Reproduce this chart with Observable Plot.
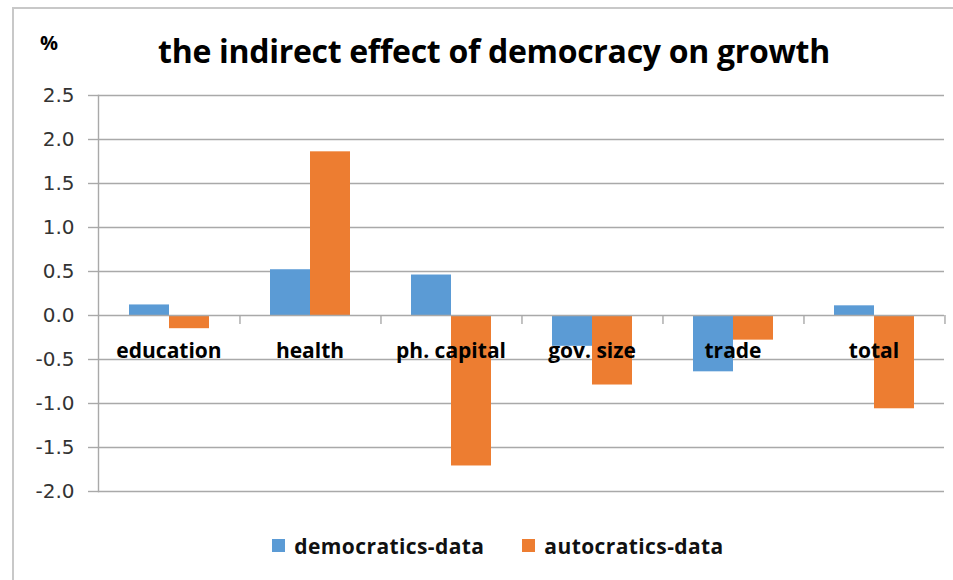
<!DOCTYPE html>
<html>
<head>
<meta charset="utf-8">
<script src="https://cdn.jsdelivr.net/npm/d3@7"></script>
<script src="https://cdn.jsdelivr.net/npm/@observablehq/plot@0.6"></script>
<style>
  html, body { margin: 0; padding: 0; background: #fff; }
  #chart {
    position: relative; width: 953px; height: 580px; overflow: hidden;
    font-family: "Open Sans", Lato, sans-serif; color: #000;
  }
  #chart .edge-top { position: absolute; left: 13px; top: 7px; right: 0; height: 0; border-top: 2px solid #c8c8c8; }
  #chart .edge-left { position: absolute; left: 12px; top: 7px; bottom: 0; width: 0; border-left: 2px solid #c8c8c8; }
  #chart .title {
    position: absolute; left: 0; width: 988px; top: 29px; text-align: center;
    font-size: 32px; font-weight: 700; letter-spacing: -0.3px;
  }
  #chart .unit { position: absolute; left: 40px; top: 29px; font-size: 20px; font-weight: 700; }
  #chart .legend {
    position: absolute; left: 0; width: 996px; top: 530px; text-align: center;
    font-size: 21px; font-weight: 700; letter-spacing: 0.4px; color: #111;
  }
  #chart .legend span { display: inline-flex; align-items: center; margin: 0 19px; }
  #chart .legend i { display: inline-block; width: 13px; height: 13px; margin-right: 9px; }
  #chart svg { position: absolute; left: 0; top: 0; }
</style>
</head>
<body>
<div id="chart">
  <div class="edge-top"></div>
  <div class="edge-left"></div>
  <div class="unit">%</div>
  <div class="title">the indirect effect of democracy on growth</div>
  <div class="legend" id="legend"></div>
</div>
<script>
// Categories and the two series (percentage points)
const categories = ["education", "health", "ph. capital", "gov. size", "trade", "total"];
const seriesNames = ["democratics-data", "autocratics-data"];
const democratics = [0.12, 0.52, 0.46, -0.35, -0.64, 0.11];
const autocratics = [-0.15, 1.86, -1.71, -0.79, -0.28, -1.06];
const yTicks = [-2.0, -1.5, -1.0, -0.5, 0.0, 0.5, 1.0, 1.5, 2.0, 2.5];
const colors = ["#5b9bd5", "#ed7d31"];

const rows = categories.flatMap((c, i) => [
  {category: c, series: seriesNames[0], value: democratics[i]},
  {category: c, series: seriesNames[1], value: autocratics[i]}
]);

const gridColor = "#a9a9a9";
const W = 953, H = 580;
const mL = 98, mR = 9, mT = 95, mB = 89;
const outerPad = 0.76;
const bandWidth = (W - mL - mR) / categories.length;
// offset from the centre of the second bar to the right edge of its category band
const step = bandWidth / (seriesNames.length + 2 * outerPad);
const edgeOffset = bandWidth - step * (outerPad + 1.5);

const chart = Plot.plot({
  width: W,
  height: H,
  marginLeft: mL,
  marginRight: mR,
  marginTop: mT,
  marginBottom: mB,
  style: {fontFamily: "'Open Sans', Lato, sans-serif", background: "transparent"},
  fx: {domain: categories, padding: 0, axis: null},
  x: {domain: seriesNames, paddingInner: 0, paddingOuter: outerPad, axis: null},
  y: {domain: [-2, 2.5], axis: null},
  color: {domain: seriesNames, range: colors},
  marks: [
    // horizontal gridlines
    Plot.ruleY(yTicks.filter(t => t !== 0), {stroke: gridColor, strokeWidth: 1.4}),
    // value axis: labels and outward ticks
    Plot.axisY({
      ticks: yTicks, tickSize: 10, tickPadding: 14, label: null,
      tickFormat: d => d.toFixed(1),
      stroke: gridColor, strokeWidth: 1.4,
      fill: "#333", fontSize: 20, fontFamily: "'DejaVu Sans', sans-serif"
    }),
    // left axis line, drawn once across the whole frame
    Plot.frame({anchor: "left", facet: "super", stroke: gridColor, strokeWidth: 1.4}),
    // grouped bars
    Plot.barY(rows, {fx: "category", x: "series", y: "value", fill: "series"}),
    // category axis along zero
    Plot.ruleY([0], {stroke: gridColor, strokeWidth: 1.4}),
    // tick marks between categories
    Plot.ruleX(categories, {
      fx: d => d, x: () => seriesNames[1], y1: 0, y2: 0,
      dx: edgeOffset, insetBottom: -9, stroke: gridColor, strokeWidth: 1.4
    }),
    // category labels just below zero
    Plot.text(categories, {fx: d => d, y: 0, text: d => d, dy: 36, fontSize: 21, fontWeight: 700, fill: "#000"})
  ]
});

document.getElementById("chart").appendChild(chart);

const legend = document.getElementById("legend");
seriesNames.forEach((s, i) => {
  const span = document.createElement("span");
  const sw = document.createElement("i");
  sw.style.background = colors[i];
  span.appendChild(sw);
  span.appendChild(document.createTextNode(s));
  legend.appendChild(span);
});
</script>
</body>
</html>
